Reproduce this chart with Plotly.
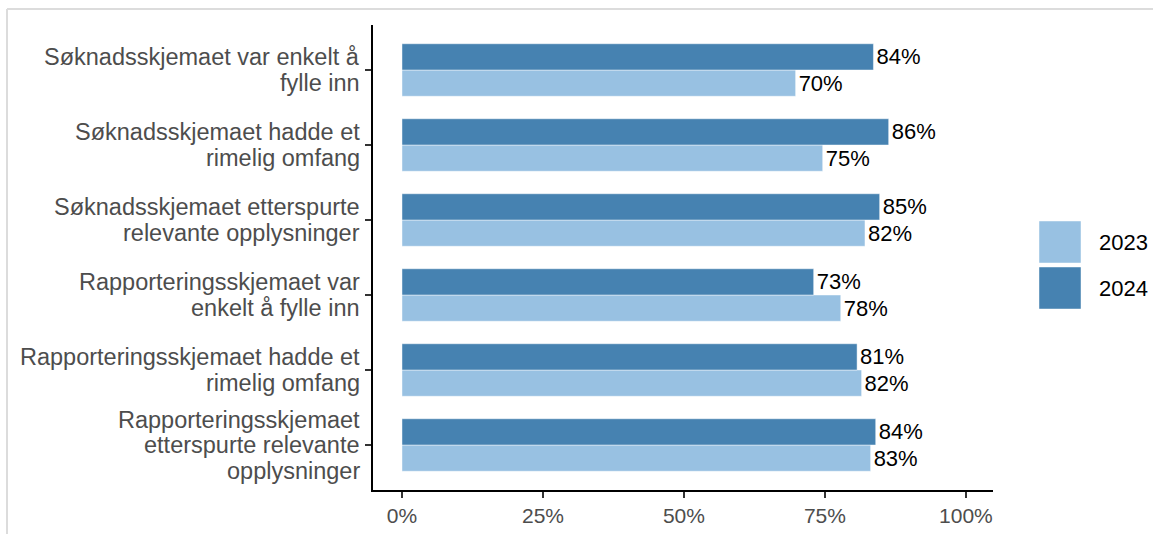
import plotly.graph_objects as go

categories = [
    "Søknadsskjemaet var enkelt å<br>fylle inn",
    "Søknadsskjemaet hadde et<br>rimelig omfang",
    "Søknadsskjemaet etterspurte<br>relevante opplysninger",
    "Rapporteringsskjemaet var<br>enkelt å fylle inn",
    "Rapporteringsskjemaet hadde et<br>rimelig omfang",
    "Rapporteringsskjemaet<br>etterspurte relevante<br>opplysninger",
]
values_2023 = [69.8, 74.6, 82.1, 77.8, 81.5, 83.1]
values_2024 = [83.6, 86.3, 84.7, 73.0, 80.7, 84.0]
series_names = ["2023", "2024"]
x_tickvals = [0, 25, 50, 75, 100]
x_ticktext = ["0%", "25%", "50%", "75%", "100%"]

col_2023 = "#98C1E2"
col_2024 = "#4682B1"
FONT = "Liberation Sans, Arial, sans-serif"

fig = go.Figure()
for name, vals, col in [(series_names[0], values_2023, col_2023),
                        (series_names[1], values_2024, col_2024)]:
    fig.add_trace(go.Bar(
        y=categories, x=vals, name=name, orientation="h",
        marker=dict(color=col, line=dict(color="rgba(255,255,255,0.45)", width=1)),
        text=[f"{round(v):.0f}%" for v in vals],
        textposition="outside", constraintext="none", cliponaxis=False,
        textfont=dict(family=FONT, size=22, color="#000000"),
        hoverinfo="skip", showlegend=False,
    ))

# plot area geometry (pixels)
L, R, T, B = 373, 993, 25, 490
W, H = R - L, B - T
def px(x):
    return (x - L) / W
def py(y):
    return (B - y) / H

shapes = [
    # light gray frame (top and left)
    dict(type="line", xref="paper", yref="paper", x0=px(7), x1=px(1160), y0=py(9), y1=py(9),
         line=dict(color="#DCDCDC", width=2)),
    dict(type="line", xref="paper", yref="paper", x0=px(7), x1=px(7), y0=py(9), y1=py(540),
         line=dict(color="#DCDCDC", width=2)),
]
annotations = []

# category labels (one text per line, tight line spacing, right aligned)
LINE_H = 25.5
for cat in categories:
    lines = cat.split("<br>")
    n = len(lines)
    for i, ln in enumerate(lines):
        annotations.append(dict(
            xref="paper", yref="y", x=0, y=cat, xanchor="right", yanchor="middle",
            xshift=-11, yshift=((n - 1) / 2 - i) * LINE_H, text=ln, showarrow=False,
            font=dict(family=FONT, size=23.5, color="#4D4D4D"),
        ))

legend_keys = [(series_names[0], col_2023, 221), (series_names[1], col_2024, 267)]
for name, col, top in legend_keys:
    shapes.append(dict(type="rect", xref="paper", yref="paper",
                       x0=px(1039), x1=px(1081), y0=py(top + 42), y1=py(top),
                       fillcolor=col, line=dict(color="rgba(255,255,255,0.45)", width=1)))
    annotations.append(dict(xref="paper", yref="paper", x=px(1097), y=py(top + 21),
                            text=name, showarrow=False, xanchor="left", yanchor="middle",
                            font=dict(family=FONT, size=22, color="#000000")))

fig.update_layout(
    width=1153, height=534,
    margin=dict(l=L, r=1153 - R, t=T, b=534 - B, autoexpand=False),
    paper_bgcolor="white", plot_bgcolor="white",
    barmode="group", bargap=0.3, bargroupgap=0,
    font=dict(family=FONT),
    shapes=shapes, annotations=annotations,
    showlegend=False,
)
fig.update_xaxes(
    range=[-5.14, 104.8], tickvals=x_tickvals, ticktext=x_ticktext,
    showgrid=False, zeroline=False, showline=True, linecolor="#000000", linewidth=2.2,
    ticks="outside", ticklen=6, tickwidth=2, tickcolor="#333333",
    tickfont=dict(family=FONT, size=21, color="#4D4D4D"), automargin=False,
)
fig.update_yaxes(
    categoryorder="array", categoryarray=categories[::-1], range=[-0.6, 5.6],
    showgrid=False, zeroline=False, showline=True, linecolor="#000000", linewidth=2.2,
    ticks="outside", ticklen=6, tickwidth=2, tickcolor="#333333",
    showticklabels=False, automargin=False,
)

fig.write_html("out.html", config={"displayModeBar": False})
with open("out.html", "r", encoding="utf-8") as f:
    html = f.read()
html = html.replace("<head>", "<head><style>html,body{margin:0;padding:0;overflow:hidden;}</style>", 1)
with open("out.html", "w", encoding="utf-8") as f:
    f.write(html)
